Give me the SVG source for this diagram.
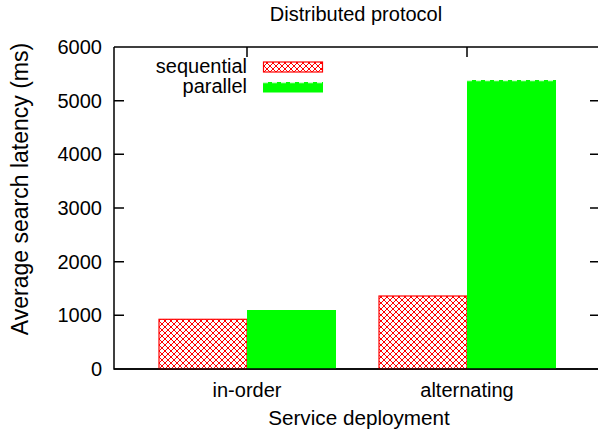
<svg xmlns="http://www.w3.org/2000/svg" width="598" height="435" viewBox="0 0 598 435">
<style>
text{font-family:"Liberation Sans",Arial,sans-serif;font-size:20px;fill:#000}
.ax{stroke:#000;stroke-width:1.5;fill:none}
.seq{fill:url(#hatch);stroke:#ff0000;stroke-width:1.2}
.par{fill:#00ff00}
.dash{stroke:#c8ffc8;stroke-width:1.2;stroke-dasharray:5 4;fill:none}
</style>
<defs>
<pattern id="hatch" patternUnits="userSpaceOnUse" width="6" height="6">
<rect width="6" height="6" fill="#fff"/>
<path d="M0,0L6,6M6,0L0,6M-1,5L1,7M5,-1L7,1M-1,1L1,-1M5,7L7,5" stroke="#ff0000" stroke-width="1"/>
</pattern>
</defs>
<rect width="598" height="435" fill="#fff"/>
<text x="356" y="21" text-anchor="middle">Distributed protocol</text>
<g id="axes">
<path class="ax" d="M114,47V369H600M114,47H600"/>
<path class="ax" d="M114,315.3h10M114,261.7h10M114,208h10M114,154.3h10M114,100.7h10M600,315.3h-10M600,261.7h-10M600,208h-10M600,154.3h-10M600,100.7h-10M247,47v10M467,47v10"/>
<g text-anchor="end">
<text x="102" y="376">0</text>
<text x="102" y="322.3">1000</text>
<text x="102" y="268.7">2000</text>
<text x="102" y="215">3000</text>
<text x="102" y="161.3">4000</text>
<text x="102" y="107.7">5000</text>
<text x="102" y="54">6000</text>
</g>
<g text-anchor="middle">
<text x="247" y="397">in-order</text>
<text x="467" y="397">alternating</text>
<text x="359" y="425" style="font-size:20.7px">Service deployment</text>
</g>
<text transform="translate(28,189) rotate(-90)" text-anchor="middle" style="font-size:23px">Average search latency (ms)</text>
</g>
<g id="bars">
<rect id="seq-inorder" class="seq" x="159" y="319.3" width="88" height="49.7"/>
<rect id="par-inorder" class="par" x="247" y="310" width="89" height="59"/>
<rect id="seq-alt" class="seq" x="379" y="296" width="88" height="73"/>
<rect id="par-alt" class="par" x="467" y="80" width="89" height="289"/>
<path class="dash" d="M467,80.6H556"/>
</g>
<path class="ax" d="M114,369H600"/>
<g id="legend">
<text x="247" y="73" text-anchor="end">sequential</text>
<rect class="seq" x="263.5" y="62" width="59" height="10"/>
<text x="247" y="93" text-anchor="end">parallel</text>
<rect class="par" x="263" y="82" width="60" height="10.5"/>
<path class="dash" d="M263,82.6H323"/>
</g>
</svg>
